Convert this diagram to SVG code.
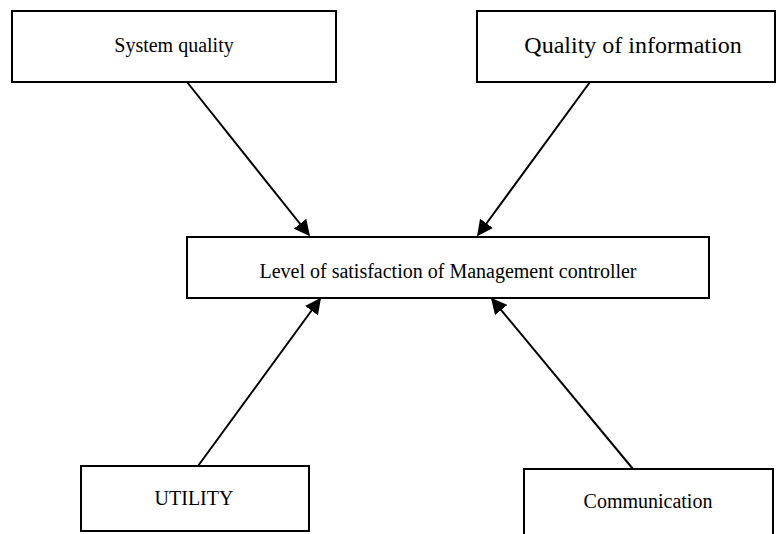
<svg xmlns="http://www.w3.org/2000/svg" width="776" height="534" viewBox="0 0 776 534">
<defs>
<style>
.box{fill:#fff;stroke:#000;stroke-width:2}
.lbl{font-family:"Liberation Serif","Times New Roman",serif;font-size:20px;fill:#000;text-anchor:middle}
.conn{stroke:#000;stroke-width:2;fill:none;marker-end:url(#ah)}
</style>
<marker id="ah" viewBox="0 0 10 10" refX="9" refY="5" markerWidth="8" markerHeight="8" markerUnits="strokeWidth" orient="auto">
<path d="M0,0 L10,5 L0,10 z" fill="#000"/>
</marker>
</defs>
<rect width="776" height="534" fill="#fff"/>
<g id="connectors">
<line class="conn" x1="187" y1="82" x2="309" y2="235"/>
<line class="conn" x1="590" y1="82" x2="478" y2="235"/>
<line class="conn" x1="198" y1="466" x2="320" y2="299"/>
<line class="conn" x1="633" y1="469" x2="492" y2="299"/>
</g>
<g id="system-quality">
<rect class="box" x="12" y="11" width="324" height="71"/>
<text class="lbl" x="174" y="52">System quality</text>
</g>
<g id="quality-information">
<rect class="box" x="477" y="11" width="298" height="71"/>
<text class="lbl" x="633" y="53" style="font-size:24px">Quality of information</text>
</g>
<g id="satisfaction">
<rect class="box" x="187" y="237" width="522" height="61"/>
<text class="lbl" x="448" y="278">Level of satisfaction of Management controller</text>
</g>
<g id="utility">
<rect class="box" x="81" y="466" width="228" height="65"/>
<text class="lbl" x="194" y="505">UTILITY</text>
</g>
<g id="communication">
<rect class="box" x="524" y="469" width="249" height="80"/>
<text class="lbl" x="648" y="508">Communication</text>
</g>
</svg>
